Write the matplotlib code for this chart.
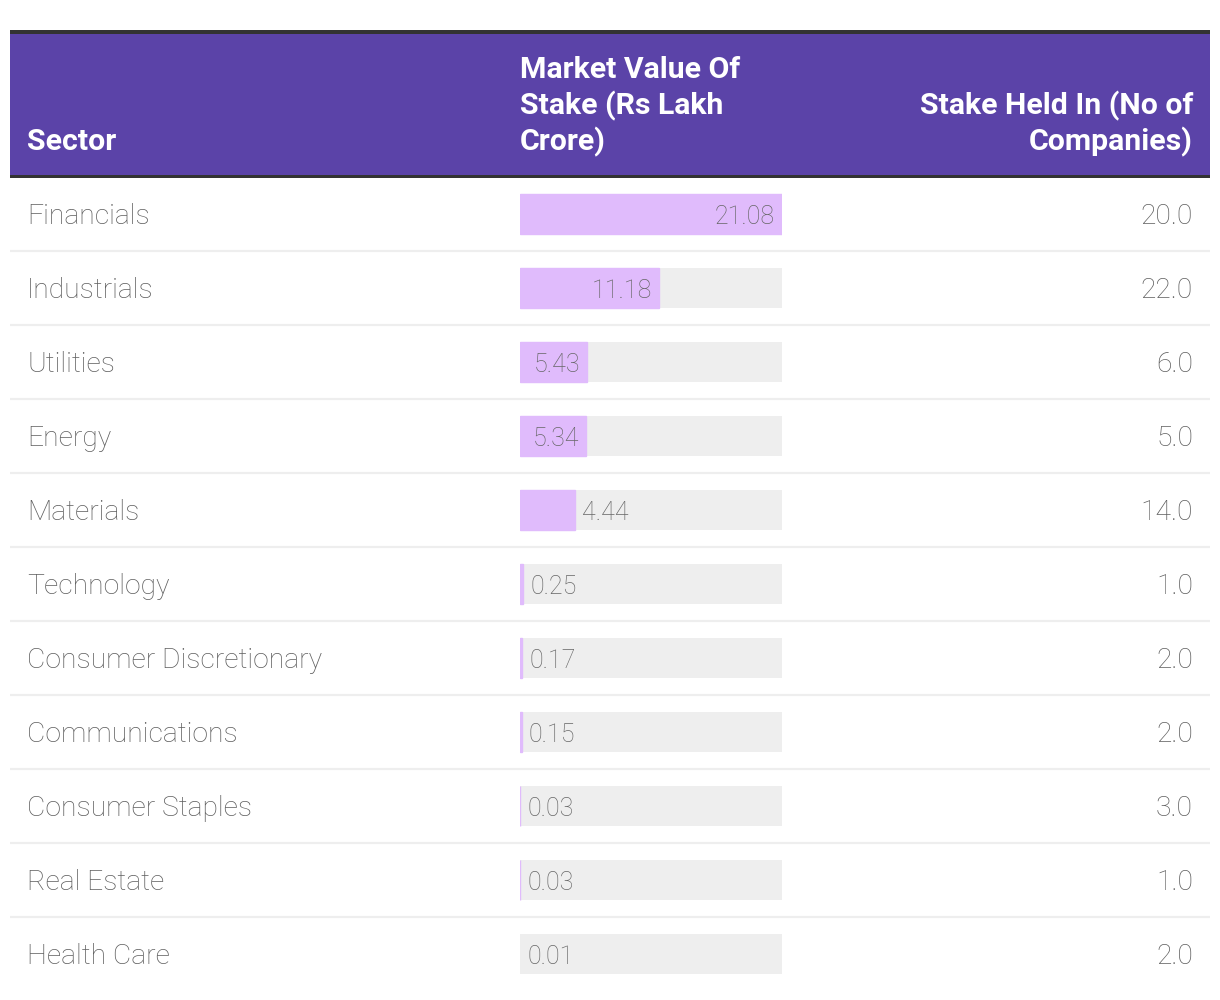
import matplotlib
matplotlib.use("Agg")
import matplotlib.pyplot as plt
import matplotlib.transforms as mtransforms
from matplotlib.patches import Rectangle

sectors = ["Financials", "Industrials", "Utilities", "Energy", "Materials", "Technology",
           "Consumer Discretionary", "Communications", "Consumer Staples", "Real Estate", "Health Care"]
market_value = [21.08, 11.18, 5.43, 5.34, 4.44, 0.25, 0.17, 0.15, 0.03, 0.03, 0.01]
companies = [20.0, 22.0, 6.0, 5.0, 14.0, 1.0, 2.0, 2.0, 3.0, 1.0, 2.0]
header_sector = "Sector"
header_value = ["Market Value Of", "Stake (Rs Lakh", "Crore)"]
header_count = ["Stake Held In (No of", "Companies)"]

W, H = 1220, 1000
fig = plt.figure(figsize=(W / 100, H / 100), dpi=100)
fig.patch.set_facecolor("white")

# layout axes in pixel coordinates
ax = fig.add_axes([0, 0, 1, 1])
ax.set_xlim(0, W)
ax.set_ylim(H, 0)
ax.axis("off")

PURPLE = "#5B43A8"
DARK = "#333333"
GRID = "#EEEEEE"
TXT = "#5E5E5E"
BAR = "#E0BBFC"

ax.add_patch(Rectangle((10, 30), 1200, 147, facecolor=PURPLE, edgecolor="none", zorder=1))
ax.add_patch(Rectangle((10, 30), 1200, 3.5, facecolor=DARK, edgecolor="none", zorder=2))
ax.add_patch(Rectangle((10, 174.5), 1200, 3.5, facecolor=DARK, edgecolor="none", zorder=2))

hfont = dict(family="Roboto", fontweight="bold", color="white", fontsize=21.8)
ax.text(27, 150, header_sector, ha="left", va="baseline", **hfont)
for i, line in enumerate(header_value):
    ax.text(520, 78 + 36 * i, line, ha="left", va="baseline", **hfont)
for i, line in enumerate(header_count):
    ax.text(1193, 114 + 36 * i, line, ha="right", va="baseline", **hfont)

n = len(sectors)
row_top, row_h = 177, 74
# separators
for i in range(n - 1):
    yb = row_top + row_h * (i + 1)
    ax.plot([10, 1210], [yb, yb], color=GRID, lw=1.6, solid_capstyle="butt", zorder=1)

# bar axes
bx_left, bx_w = 520, 262
bx = fig.add_axes([bx_left / W, 1 - (row_top + row_h * n) / H, bx_w / W, row_h * n / H])
bx.axis("off")
vmax = max(market_value)
bx.set_xlim(0, vmax)
bx.set_ylim(n - 0.5, -0.5)
ypos = list(range(n))
bar_h = 40 / row_h
bx.barh(ypos, [vmax] * n, height=bar_h, color=GRID, edgecolor="none", zorder=1)
lws = [1.0 if v >= 0.02 else 0 for v in market_value]
bx.barh(ypos, market_value, height=bar_h, color=BAR, edgecolor=BAR, linewidth=lws, zorder=2)

bfont = dict(family="Roboto", fontweight="light", color=TXT, fontsize=20.3)
vfont = dict(family="Roboto", fontweight="light", color="#666666", fontsize=18)
px_per_unit = bx_w / vmax
for i, v in enumerate(market_value):
    label = f"{v:.2f}"
    bar_px = v * px_per_unit
    if bar_px > 60:
        bx.annotate(label, (v, i), xytext=(-5, 0), textcoords="offset points",
                    ha="right", va="center_baseline", zorder=3, **vfont)
    else:
        bx.annotate(label, (v, i), xytext=(5, 0), textcoords="offset points",
                    ha="left", va="center_baseline", zorder=3, **vfont)

trans = mtransforms.blended_transform_factory(ax.transData, bx.transData)
for i, (s, c) in enumerate(zip(sectors, companies)):
    ax.text(27, i, s, transform=trans, ha="left", va="center_baseline", **bfont)
    ax.text(1193, i, f"{c:.1f}", transform=trans, ha="right", va="center_baseline", **bfont)

fig.savefig("out.png", dpi=100, facecolor="white")
